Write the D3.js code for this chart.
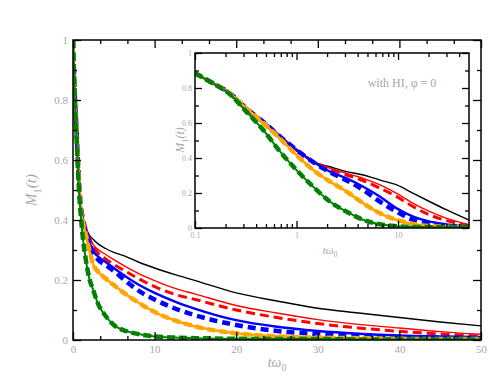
<!DOCTYPE html>
<html>
<head>
<meta charset="utf-8">
<script src="https://cdn.jsdelivr.net/npm/d3@7/dist/d3.min.js"></script>
<style>
  body { margin: 0; background: #fff; }
  text { font-family: "Liberation Serif", "DejaVu Serif", serif; fill: #a8a8a8; }
</style>
</head>
<body>
<div id="chart"></div>
<script>
// main panel: linear time axis
const mainTimes = [0, 0.2, 0.4, 0.6, 0.8, 1, 1.25, 1.5, 2, 2.5, 3, 4, 5, 6.5, 8, 10, 12.5, 15, 20, 25, 30, 35, 40, 45, 50];
const mainBlack = [1, 0.83, 0.72, 0.6, 0.5, 0.44, 0.4, 0.38, 0.35, 0.335, 0.322, 0.305, 0.292, 0.278, 0.26, 0.24, 0.218, 0.198, 0.157, 0.13, 0.106, 0.09, 0.075, 0.06, 0.047];
const mainRed = [1, 0.83, 0.72, 0.6, 0.5, 0.44, 0.4, 0.375, 0.345, 0.317, 0.303, 0.285, 0.268, 0.244, 0.222, 0.198, 0.172, 0.153, 0.115, 0.09, 0.068, 0.052, 0.04, 0.028, 0.019];
const mainRedDash = [1, 0.83, 0.72, 0.6, 0.5, 0.44, 0.4, 0.373, 0.34, 0.31, 0.292, 0.27, 0.252, 0.228, 0.205, 0.178, 0.152, 0.135, 0.1, 0.075, 0.055, 0.04, 0.029, 0.02, 0.013];
const mainBlue = [1, 0.83, 0.72, 0.6, 0.5, 0.44, 0.4, 0.372, 0.33, 0.295, 0.28, 0.26, 0.24, 0.211, 0.185, 0.157, 0.128, 0.104, 0.066, 0.044, 0.03, 0.021, 0.015, 0.012, 0.01];
const mainBlueDash = [1, 0.83, 0.72, 0.6, 0.5, 0.44, 0.4, 0.37, 0.325, 0.29, 0.27, 0.25, 0.23, 0.196, 0.165, 0.135, 0.105, 0.082, 0.05, 0.03, 0.02, 0.013, 0.009, 0.007, 0.005];
const mainOrange = [1, 0.83, 0.72, 0.6, 0.5, 0.43, 0.39, 0.36, 0.3, 0.25, 0.23, 0.205, 0.183, 0.152, 0.125, 0.093, 0.065, 0.045, 0.022, 0.012, 0.008, 0.006, 0.004, 0.003, 0.003];
const mainGreen = [1, 0.82, 0.7, 0.57, 0.47, 0.4, 0.33, 0.28, 0.205, 0.165, 0.125, 0.08, 0.05, 0.03, 0.02, 0.012, 0.008, 0.006, 0.004, 0.003, 0.003, 0.002, 0.002, 0.002, 0.002];

// inset: with HI, log time axis
const insetTimes = [0.1, 0.15, 0.22, 0.32, 0.47, 0.69, 1, 1.46, 2.14, 3.12, 4.55, 6.65, 9.7, 14.1, 20.6, 30.2, 50];
const insetBlack = [0.884, 0.827, 0.77, 0.684, 0.607, 0.522, 0.446, 0.379, 0.35, 0.322, 0.303, 0.274, 0.246, 0.198, 0.15, 0.103, 0.045];
const insetRed = [0.884, 0.827, 0.77, 0.684, 0.607, 0.522, 0.446, 0.379, 0.341, 0.312, 0.284, 0.246, 0.198, 0.141, 0.093, 0.055, 0.019];
const insetRedDash = [0.884, 0.827, 0.77, 0.684, 0.607, 0.522, 0.446, 0.379, 0.338, 0.303, 0.27, 0.227, 0.179, 0.122, 0.074, 0.042, 0.013];
const insetBlue = [0.884, 0.827, 0.77, 0.684, 0.607, 0.522, 0.446, 0.379, 0.322, 0.284, 0.236, 0.179, 0.112, 0.065, 0.036, 0.021, 0.009];
const insetBlueDash = [0.884, 0.827, 0.77, 0.684, 0.607, 0.522, 0.446, 0.376, 0.318, 0.272, 0.217, 0.15, 0.093, 0.046, 0.023, 0.011, 0.005];
const insetOrange = [0.884, 0.827, 0.77, 0.684, 0.6, 0.51, 0.417, 0.331, 0.265, 0.208, 0.141, 0.084, 0.046, 0.023, 0.011, 0.007, 0.005];
const insetGreen = [0.884, 0.827, 0.765, 0.665, 0.56, 0.436, 0.331, 0.236, 0.15, 0.093, 0.046, 0.021, 0.01, 0.006, 0.005, 0.004, 0.004];

const mainXTicks = [0, 10, 20, 30, 40, 50];
const yTicks = [0, 0.2, 0.4, 0.6, 0.8, 1];
const insetXTicks = [0.1, 1, 10];

const width = 501, height = 383;
const svg = d3.select('#chart').append('svg')
  .attr('width', width).attr('height', height);

// drawing order matters: green dashed ends up on top
const styles = [
  {key: 'black', color: '#000', w: 1.4},
  {key: 'red', color: '#ff0000', w: 1.4},
  {key: 'redDash', color: '#ff0000', w: 3, dash: '9,5'},
  {key: 'blue', color: '#0000ff', w: 2.4},
  {key: 'blueDash', color: '#0000ff', w: 4.5, dash: '8,5'},
  {key: 'orange', color: '#ffa500', w: 2.6},
  {key: 'orangeDash', color: '#ffa500', w: 4.5, dash: '8,4'},
  {key: 'green', color: '#008000', w: 2},
  {key: 'greenDash', color: '#008000', w: 4.5, dash: '8,4'},
];

const mainSeries = {
  black: mainBlack, red: mainRed, redDash: mainRedDash, blue: mainBlue, blueDash: mainBlueDash,
  orange: mainOrange, orangeDash: mainOrange, green: mainGreen, greenDash: mainGreen,
};
const insetSeries = {
  black: insetBlack, red: insetRed, redDash: insetRedDash, blue: insetBlue, blueDash: insetBlueDash,
  orange: insetOrange, orangeDash: insetOrange, green: insetGreen, greenDash: insetGreen,
};

function mLabel(g, x, y, size) {
  const t = g.append('text')
    .attr('transform', `translate(${x},${y}) rotate(-90)`)
    .attr('text-anchor', 'middle')
    .style('font-size', size + 'px')
    .style('font-style', 'italic');
  t.append('tspan').text('M');
  t.append('tspan').attr('dy', size * 0.3).style('font-size', (size * 0.7) + 'px').style('font-style', 'normal').text('1');
  t.append('tspan').attr('dy', -size * 0.3).text('(t)');
}

function tLabel(g, x, y, size) {
  const t = g.append('text')
    .attr('x', x).attr('y', y)
    .attr('text-anchor', 'middle')
    .style('font-size', size + 'px')
    .style('font-style', 'italic');
  t.append('tspan').text('tω');
  t.append('tspan').attr('dy', size * 0.3).style('font-size', (size * 0.7) + 'px').style('font-style', 'normal').text('0');
}

function panel(id, box, x, times, series, opt) {
  const y = d3.scaleLinear().domain([0, 1]).range([box.bottom, box.top]);
  const g = svg.append('g');

  g.append('rect')
    .attr('x', box.left).attr('y', box.top)
    .attr('width', box.right - box.left).attr('height', box.bottom - box.top)
    .attr('fill', '#fff');

  g.append('clipPath').attr('id', id)
    .append('rect')
    .attr('x', box.left).attr('y', box.top - 3)
    .attr('width', box.right - box.left).attr('height', box.bottom - box.top + 3);

  const line = d3.line()
    .x(d => x(d[0]))
    .y(d => y(d[1]))
    .curve(d3.curveMonotoneX);

  const curves = g.append('g').attr('clip-path', `url(#${id})`);
  styles.forEach(s => {
    curves.append('path')
      .datum(times.map((t, i) => [t, series[s.key][i]]))
      .attr('d', line)
      .attr('fill', 'none')
      .attr('stroke', s.color)
      .attr('stroke-width', s.w)
      .attr('stroke-dasharray', s.dash || null);
  });

  // ticks on all four sides, pointing inward
  const major = opt.major, minor = opt.minor;
  const yMinor = d3.range(0.1, 1, 0.2);
  const axes = [
    [d3.axisBottom(x).tickValues(major).tickSize(-opt.big).tickFormat(opt.fmt).tickPadding(opt.padX), 0, box.bottom],
    [d3.axisBottom(x).tickValues(minor).tickSize(-opt.small).tickFormat(''), 0, box.bottom],
    [d3.axisTop(x).tickValues(major).tickSize(-opt.big).tickFormat(''), 0, box.top],
    [d3.axisTop(x).tickValues(minor).tickSize(-opt.small).tickFormat(''), 0, box.top],
    [d3.axisLeft(y).tickValues(yTicks).tickSize(-opt.big).tickFormat(d3.format('~g')).tickPadding(opt.padY), box.left, 0],
    [d3.axisLeft(y).tickValues(yMinor).tickSize(-opt.small).tickFormat(''), box.left, 0],
    [d3.axisRight(y).tickValues(yTicks).tickSize(-opt.big).tickFormat(''), box.right, 0],
    [d3.axisRight(y).tickValues(yMinor).tickSize(-opt.small).tickFormat(''), box.right, 0],
  ];
  axes.forEach(([axis, tx, ty]) => {
    const a = g.append('g').attr('transform', `translate(${tx},${ty})`).call(axis);
    a.select('.domain').remove();
    a.selectAll('line').attr('stroke', '#000').attr('stroke-width', 1.3);
    a.selectAll('text').attr('fill', null).style('font-size', opt.font + 'px');
  });

  g.append('rect')
    .attr('x', box.left).attr('y', box.top)
    .attr('width', box.right - box.left).attr('height', box.bottom - box.top)
    .attr('fill', 'none').attr('stroke', '#000').attr('stroke-width', 1.5);
  return g;
}

// main plot
const mainBox = {left: 73, right: 481, top: 40, bottom: 340};
const xMain = d3.scaleLinear().domain([0, 50]).range([mainBox.left, mainBox.right]);
const mainG = panel('clipMain', mainBox, xMain, mainTimes, mainSeries, {
  major: mainXTicks, minor: d3.range(0, 50.01, 10 / 3).filter(v => Math.abs(v % 10) > 0.1 && Math.abs(v % 10 - 10) > 0.1),
  big: 8, small: 4, font: 11, padX: 5, padY: 5, fmt: d3.format('d'),
});
mLabel(mainG, 36, 190, 15);
tLabel(mainG, 277, 367, 14);

// inset
const insetBox = {left: 195, right: 469, top: 53, bottom: 228};
const xInset = d3.scaleLog().domain([0.1, 50]).range([insetBox.left, insetBox.right]);
const insetMinor = [0.2, 0.3, 0.4, 0.5, 0.6, 0.7, 0.8, 0.9, 2, 3, 4, 5, 6, 7, 8, 9, 20, 30, 40];
const insetG = panel('clipInset', insetBox, xInset, insetTimes, insetSeries, {
  major: insetXTicks, minor: insetMinor,
  big: 7, small: 4, font: 8, padX: 4, padY: 3, fmt: d3.format('~g'),
});
mLabel(insetG, 184, 140, 12);
tLabel(insetG, 330, 254, 11);

insetG.append('text')
  .attr('x', 402).attr('y', 87)
  .attr('text-anchor', 'middle')
  .style('font-size', '12px')
  .text('with HI, φ = 0');
</script>
</body>
</html>
